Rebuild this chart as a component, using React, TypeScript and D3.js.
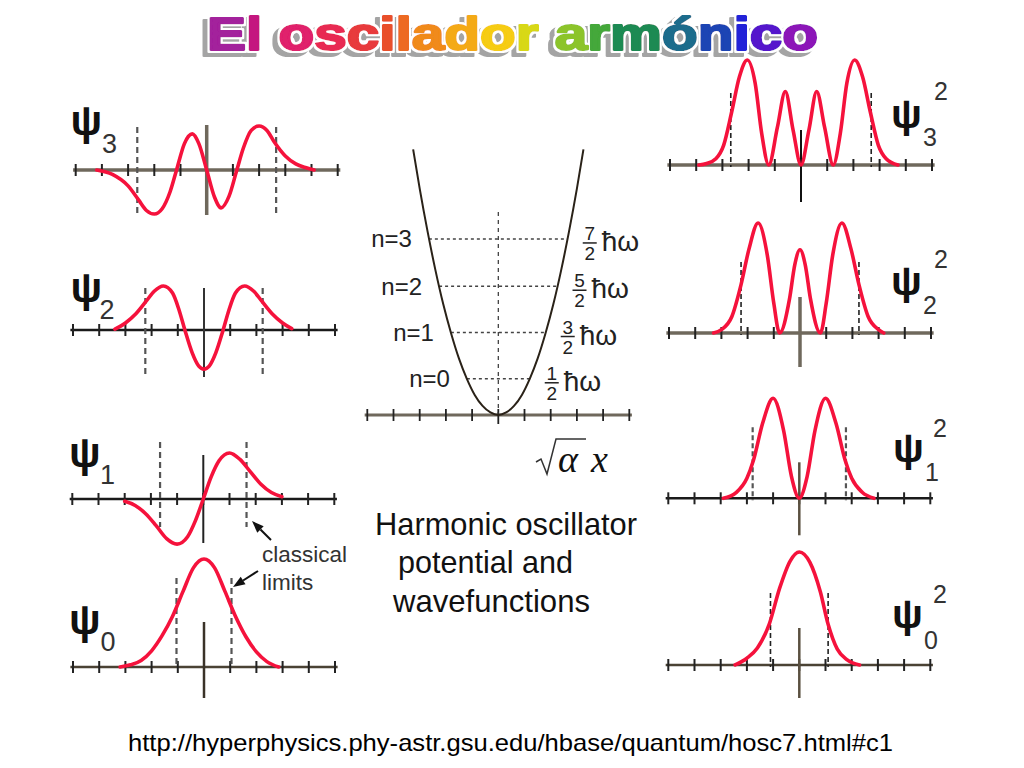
import React from "react";
import * as d3 from "d3";

// ---------- DATA ----------
const TITLE = "El oscilador armónico";
const TITLE_COLORS = ["#a3209c","#c4197f","#fff","#e0206c","#e82a52","#e83a3c","#e9502c","#ed6a22","#f08a1a","#f4aa14","#f6cc12","#d8d814","#fff","#8cc42a","#44a83a","#1e8a52","#1e6c8c","#1c44b4","#2424d8","#5418cc","#8c18b8"];

const TICKS = [-5,-4,-3,-2,-1,0,1,2,3,4,5];

// wavefunctions psi_n (x in sqrt(alpha)·x units, amplitude normalised)
const psi3X = [-4.2,-3.6,-3.0,-2.6,-2.3,-2.0,-1.7,-1.4,-1.15,-0.85,-0.55,-0.3,0,0.3,0.55,0.85,1.15,1.4,1.7,2.0,2.3,2.6,3.0,3.4,3.8,4.1];
const psi3Y = [0.0,-0.1,-0.36,-0.68,-0.92,-1.0,-0.88,-0.5,0,0.6,0.82,0.6,0,-0.62,-0.86,-0.6,0,0.5,0.9,1.0,0.9,0.62,0.32,0.14,0.05,0.0];
const psi2X = [-3.4,-3.0,-2.6,-2.2,-1.9,-1.55,-1.2,-0.95,-0.73,-0.45,-0.2,0,0.2,0.45,0.73,0.95,1.2,1.55,1.9,2.2,2.6,3.0,3.35];
const psi2Y = [0.02,0.16,0.37,0.66,0.88,1.0,0.84,0.45,0,-0.52,-0.82,-0.89,-0.82,-0.52,0,0.45,0.84,1.0,0.88,0.66,0.37,0.16,0.03];
const psi1X = [-3.0,-2.6,-2.2,-1.8,-1.4,-1.0,-0.6,-0.3,0,0.3,0.6,1.0,1.4,1.8,2.2,2.6,3.0];
const psi1Y = [-0.05,-0.14,-0.32,-0.58,-0.86,-0.98,-0.82,-0.47,0,0.48,0.83,1.0,0.86,0.59,0.32,0.14,0.05];
const psi0X = [-3.2,-2.8,-2.4,-2.0,-1.6,-1.2,-0.8,-0.4,0,0.4,0.8,1.2,1.6,2.0,2.4,2.85];
const psi0Y = [0,0.02,0.06,0.15,0.29,0.47,0.7,0.92,1.0,0.92,0.7,0.47,0.28,0.14,0.05,0];

// probability densities psi_n^2
const prob3X = [-3.9,-3.6,-3.25,-2.95,-2.65,-2.35,-2.05,-1.75,-1.5,-1.23,-0.9,-0.6,-0.3,0,0.3,0.6,0.9,1.23,1.5,1.75,2.05,2.35,2.65,2.95,3.25,3.7];
const prob3Y = [0,0.015,0.06,0.19,0.5,0.84,1.0,0.78,0.3,0,0.36,0.7,0.33,0,0.33,0.7,0.36,0,0.3,0.78,1.0,0.84,0.5,0.19,0.06,0];
const prob2X = [-3.3,-3.0,-2.6,-2.25,-1.95,-1.6,-1.25,-1.0,-0.78,-0.4,-0.2,0,0.2,0.4,0.78,1.0,1.25,1.6,1.95,2.25,2.6,3.0,3.2];
const prob2Y = [0,0.03,0.15,0.44,0.76,1.0,0.71,0.27,0,0.31,0.62,0.757,0.62,0.31,0,0.27,0.71,1.0,0.76,0.44,0.15,0.03,0];
const prob1X = [-2.9,-2.4,-2.0,-1.75,-1.4,-1.0,-0.6,-0.3,0,0.3,0.6,1.0,1.4,1.75,2.0,2.4,2.85];
const prob1Y = [0,0.06,0.2,0.38,0.75,1.0,0.68,0.22,0,0.22,0.68,1.0,0.75,0.38,0.2,0.06,0];
const prob0X = [-2.45,-2.0,-1.6,-1.15,-0.75,-0.35,0,0.4,0.8,1.1,1.45,1.8,2.3];
const prob0Y = [0,0.06,0.15,0.36,0.68,0.92,1.0,0.91,0.65,0.36,0.14,0.05,0];

// classical turning points read for each panel
const leftLimits = [2.65, 2.24, 1.65, 1.05];
const rightLimits = [2.68, 2.25, 1.78, 1.1];

// potential well
const potX = [-3.25,-3.0,-2.7,-2.4,-2.1,-1.8,-1.5,-1.2,-0.9,-0.6,-0.3,0,0.3,0.6,0.9,1.2,1.5,1.8,2.1,2.4,2.7,3.0,3.25];
const potV = [5.28,4.5,3.65,2.88,2.2,1.62,1.12,0.72,0.4,0.18,0.05,0,0.05,0.18,0.4,0.72,1.12,1.62,2.2,2.88,3.65,4.5,5.28];
const levelLabels = ["n=0","n=1","n=2","n=3"];
const levelE = [0.72,1.64,2.56,3.5];
const levelHalfWidth = [1.2,1.81,2.26,2.65];
const levelNumer = ["1","3","5","7"];
const levelDenom = ["2","2","2","2"];

const CAPTION = ["Harmonic oscillator","potential and","wavefunctions"];
const URL_TEXT = "http://hyperphysics.phy-astr.gsu.edu/hbase/quantum/hosc7.html#c1";

// ---------- LAYOUT ----------
const UNIT = 26.2;
const SANS = "'Liberation Sans', Arial, Helvetica, sans-serif";
const RED = "#f5123c";
const GRAY = "#6f685c";

type Panel = {
  xs: number[]; ys: number[]; cx: number; ay: number; amp: number; lim: number;
  dTop: number; dBot: number; vTop: number; vBot: number;
  axisC: string; axisW: number; vC: string; vW: number; dashC: string; dashW: number; dash: string;
};

const leftPanels: Panel[] = [
  { xs: psi3X, ys: psi3Y, cx: 206.7, ay: 170, amp: 44, lim: leftLimits[0], dTop: -43, dBot: 45, vTop: -45, vBot: 45, axisC: GRAY, axisW: 3.5, vC: GRAY, vW: 3.5, dashC: "#555", dashW: 2.2, dash: "6,4" },
  { xs: psi2X, ys: psi2Y, cx: 204, ay: 330, amp: 44, lim: leftLimits[1], dTop: -42, dBot: 47, vTop: -42, vBot: 47, axisC: "#1a1a1a", axisW: 2.5, vC: "#333", vW: 2, dashC: "#555", dashW: 2.2, dash: "6,4" },
  { xs: psi1X, ys: psi1Y, cx: 203.3, ay: 499, amp: 46, lim: leftLimits[2], dTop: -57, dBot: 28, vTop: -44, vBot: 44, axisC: "#1a1a1a", axisW: 2.5, vC: "#222", vW: 2, dashC: "#555", dashW: 2.2, dash: "6,4" },
  { xs: psi0X, ys: psi0Y, cx: 204, ay: 667, amp: 108, lim: leftLimits[3], dTop: -89, dBot: 0, vTop: -45, vBot: 31, axisC: "#4a4234", axisW: 2.5, vC: "#3a3228", vW: 2.5, dashC: "#555", dashW: 2.2, dash: "6,4" },
];

const rightPanels: Panel[] = [
  { xs: prob3X, ys: prob3Y, cx: 801, ay: 165, amp: 105, lim: rightLimits[0], dTop: -72, dBot: 2, vTop: -35, vBot: 37, axisC: GRAY, axisW: 3.5, vC: "#111", vW: 2, dashC: "#222", dashW: 1.6, dash: "5,3" },
  { xs: prob2X, ys: prob2Y, cx: 800, ay: 333, amp: 110, lim: rightLimits[1], dTop: -71, dBot: 2, vTop: -36, vBot: 34, axisC: GRAY, axisW: 3.5, vC: GRAY, vW: 3.5, dashC: "#222", dashW: 1.6, dash: "5,3" },
  { xs: prob1X, ys: prob1Y, cx: 799.3, ay: 498.3, amp: 100, lim: rightLimits[2], dTop: -71, dBot: 2, vTop: -36, vBot: 37, axisC: "#1a1a1a", axisW: 2.5, vC: "#5a5040", vW: 2.5, dashC: "#555", dashW: 2.2, dash: "5,3" },
  { xs: prob0X, ys: prob0Y, cx: 799.3, ay: 665, amp: 113, lim: rightLimits[3], dTop: -72, dBot: 2, vTop: -37, vBot: 33, axisC: "#4a4234", axisW: 2.5, vC: "#5a5040", vW: 2.5, dashC: "#222", dashW: 1.6, dash: "5,3" },
];

const leftLabels = [
  { sub: "3", x: 70.5, base: 134.5, sx: 102, sb: 153 },
  { sub: "2", x: 70.5, base: 301.5, sx: 99.5, sb: 319 },
  { sub: "1", x: 69, base: 466.5, sx: 100, sb: 484 },
  { sub: "0", x: 69, base: 633.5, sx: 100.5, sb: 651 },
];
const rightLabels = [
  { sub: "3", x: 891, base: 128, sx: 923, sb: 146, px: 934, pb: 100 },
  { sub: "2", x: 891, base: 294.5, sx: 923, sb: 314, px: 934, pb: 268 },
  { sub: "1", x: 893, base: 461.5, sx: 925, sb: 481, px: 933, pb: 437 },
  { sub: "0", x: 892, base: 628, sx: 924, sb: 649, px: 933, pb: 603 },
];

function PanelView({ p }: { p: Panel }) {
  const x = d3.scaleLinear().domain([-1, 1]).range([p.cx - UNIT, p.cx + UNIT]);
  const y = d3.scaleLinear().domain([0, 1]).range([p.ay, p.ay - p.amp]);
  const pts: [number, number][] = p.xs.map((v, i) => [v, p.ys[i]]);
  const line = d3.line<[number, number]>().x(d => x(d[0])).y(d => y(d[1])).curve(d3.curveMonotoneX);
  return (
    <g>
      <line x1={x(-5.1)} x2={x(5.1)} y1={p.ay} y2={p.ay} stroke={p.axisC} strokeWidth={p.axisW} />
      {TICKS.map(t => (
        <line key={t} x1={x(t)} x2={x(t)} y1={p.ay - 6} y2={p.ay + 6} stroke="#222" strokeWidth={2} />
      ))}
      <line x1={p.cx} x2={p.cx} y1={p.ay + p.vTop} y2={p.ay + p.vBot} stroke={p.vC} strokeWidth={p.vW} />
      {[-p.lim, p.lim].map((l, i) => (
        <line key={i} x1={x(l)} x2={x(l)} y1={p.ay + p.dTop} y2={p.ay + p.dBot} stroke={p.dashC} strokeWidth={p.dashW} strokeDasharray={p.dash} />
      ))}
      <path d={line(pts) || ""} fill="none" stroke={RED} strokeWidth={3.6} strokeLinejoin="round" strokeLinecap="round" />
    </g>
  );
}

function CenterPanel() {
  const cx = 498.3, ay = 415;
  const x = d3.scaleLinear().domain([-1, 1]).range([cx - UNIT, cx + UNIT]);
  const y = d3.scaleLinear().domain([0, 1]).range([ay, ay - 50.3]);
  const pts: [number, number][] = potX.map((v, i) => [v, potV[i]]);
  const line = d3.line<[number, number]>().x(d => x(d[0])).y(d => y(d[1])).curve(d3.curveMonotoneX);
  return (
    <g fontFamily={SANS}>
      <line x1={x(-5.1)} x2={x(5.1)} y1={ay} y2={ay} stroke={GRAY} strokeWidth={3} />
      {TICKS.map(t => (
        <line key={t} x1={x(t)} x2={x(t)} y1={ay - 6} y2={ay + (t === 0 ? 9 : 6)} stroke="#222" strokeWidth={1.8} />
      ))}
      <line x1={cx} x2={cx} y1={212} y2={ay} stroke="#333" strokeWidth={1.2} strokeDasharray="4,4" />
      {levelE.map((e, i) => {
        const ly = y(e);
        const xl = x(-levelHalfWidth[i]);
        const xr = x(levelHalfWidth[i]);
        const fc = xr + 22;
        return (
          <g key={i}>
            <line x1={xl} x2={xr} y1={ly} y2={ly} stroke="#444" strokeWidth={1.6} strokeDasharray="3,3" />
            <text x={xl - 17} y={ly + 8.5} fontSize={24} textAnchor="end" fill="#222">{levelLabels[i]}</text>
            <text x={fc} y={ly + 1} fontSize={19} textAnchor="middle" fill="#222">{levelNumer[i]}</text>
            <line x1={fc - 7} x2={fc + 7} y1={ly + 4} y2={ly + 4} stroke="#222" strokeWidth={1.5} />
            <text x={fc} y={ly + 21} fontSize={19} textAnchor="middle" fill="#222">{levelDenom[i]}</text>
            <text x={fc + 12} y={ly + 12} fontSize={28} fill="#222">ħω</text>
          </g>
        );
      })}
      <path d={line(pts) || ""} fill="none" stroke="#2a2218" strokeWidth={2} />
      {/* sqrt(alpha) x */}
      <path d="M536,462 L541,459 L547,474 L556,439 L586,439" fill="none" stroke="#333" strokeWidth={1.5} />
      <text x={558} y={472} fontSize={38} fontStyle="italic" fontFamily="'Liberation Serif', 'Times New Roman', serif" fill="#111">α</text>
      <text x={591} y={472} fontSize={38} fontStyle="italic" fontFamily="'Liberation Serif', 'Times New Roman', serif" fill="#111">x</text>
    </g>
  );
}

function Arrow({ x1, y1, x2, y2 }: { x1: number; y1: number; x2: number; y2: number }) {
  const a = Math.atan2(y2 - y1, x2 - x1);
  const L = 12, W = 4.5;
  const bx = x2 - L * Math.cos(a), by = y2 - L * Math.sin(a);
  const p1 = [bx + W * Math.sin(a), by - W * Math.cos(a)];
  const p2 = [bx - W * Math.sin(a), by + W * Math.cos(a)];
  return (
    <g>
      <line x1={x1} y1={y1} x2={bx} y2={by} stroke="#111" strokeWidth={2} />
      <polygon points={`${x2},${y2} ${p1[0]},${p1[1]} ${p2[0]},${p2[1]}`} fill="#111" />
    </g>
  );
}

export default function App() {
  const chars = TITLE.split("");
  return (
    <svg width={1024} height={768} style={{ position: "absolute", left: 0, top: 0, background: "#fff" }} fontFamily={SANS}>
      <defs>
        <filter id="titleFx" x="-5%" y="-30%" width="110%" height="170%">
          <feMorphology in="SourceAlpha" operator="dilate" radius="1.6" result="fat" />
          <feOffset in="fat" dx="-5" dy="4" result="off" />
          <feFlood floodColor="#a4a4a4" result="gray" />
          <feComposite in="gray" in2="off" operator="in" result="shadow" />
          <feMorphology in="SourceAlpha" operator="dilate" radius="2.2" result="fat2" />
          <feFlood floodColor="#ffffff" result="white" />
          <feComposite in="white" in2="fat2" operator="in" result="outline" />
          <feMerge>
            <feMergeNode in="shadow" />
            <feMergeNode in="outline" />
            <feMergeNode in="SourceGraphic" />
          </feMerge>
        </filter>
      </defs>
      <rect width={1024} height={768} fill="#fff" />
      {/* title */}
      <text x={207} y={50} fontSize={46} fontWeight="bold" textLength={611} lengthAdjust="spacingAndGlyphs" filter="url(#titleFx)">
        {chars.map((c, i) => (
          <tspan key={i} fill={TITLE_COLORS[i]} stroke={TITLE_COLORS[i]} strokeWidth={2.2} strokeLinejoin="round">{c}</tspan>
        ))}
      </text>

      {leftPanels.map((p, i) => <PanelView key={"l" + i} p={p} />)}
      {rightPanels.map((p, i) => <PanelView key={"r" + i} p={p} />)}
      <CenterPanel />

      {leftLabels.map((l, i) => (
        <g key={"ll" + i} fill="#111">
          <text x={l.x} y={l.base} fontSize={42} fontWeight="bold">ψ</text>
          <text x={l.sx} y={l.sb} fontSize={27} fill="#333">{l.sub}</text>
        </g>
      ))}
      {rightLabels.map((l, i) => (
        <g key={"rl" + i} fill="#111">
          <text x={l.x} y={l.base} fontSize={41} fontWeight="bold">ψ</text>
          <text x={l.sx} y={l.sb} fontSize={25} fill="#333">{l.sub}</text>
          <text x={l.px} y={l.pb} fontSize={25} fill="#333">2</text>
        </g>
      ))}

      {/* classical limits annotation */}
      <text x={262} y={562} fontSize={22.5} fill="#333">classical</text>
      <text x={262} y={590} fontSize={22.5} fill="#333">limits</text>
      <Arrow x1={271} y1={540} x2={252} y2={521} />
      <Arrow x1={258} y1={571} x2={233} y2={587} />

      {/* caption */}
      <text x={375} y={535} fontSize={30.5} fill="#111" textLength={262} lengthAdjust="spacingAndGlyphs">{CAPTION[0]}</text>
      <text x={398} y={573} fontSize={30.5} fill="#111" textLength={175} lengthAdjust="spacingAndGlyphs">{CAPTION[1]}</text>
      <text x={393} y={612} fontSize={30.5} fill="#111" textLength={197} lengthAdjust="spacingAndGlyphs">{CAPTION[2]}</text>

      <text x={128} y={751} fontSize={24} fill="#000" textLength={765} lengthAdjust="spacingAndGlyphs">{URL_TEXT}</text>
    </svg>
  );
}
